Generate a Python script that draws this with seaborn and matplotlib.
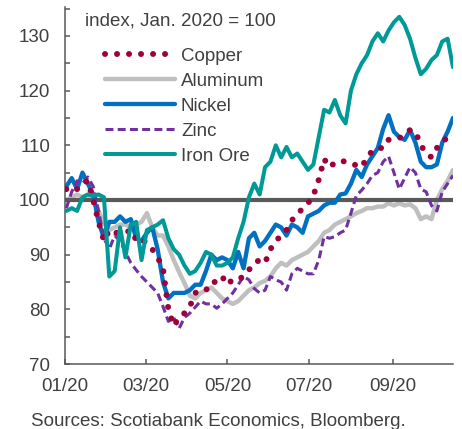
import numpy as np
import pandas as pd
import matplotlib
matplotlib.use("Agg")
import matplotlib.pyplot as plt
import matplotlib.dates as mdates
from matplotlib.ticker import MultipleLocator
from matplotlib.lines import Line2D
import seaborn as sns

# ---- data: metal prices, index Jan. 2020 = 100, sampled every 4 days ----
dates = pd.date_range("2020-01-02", periods=73, freq="4D")

copper = [102, 101.5, 102, 103, 103.5, 100, 96, 92.5, 94.5, 94, 94, 94, 94.5, 92.7, 93,
          92, 91, 89.5, 87.5, 80, 77, 78.5, 79.3, 80.5, 83, 83.5, 83.5, 85, 85, 86,
          84.5, 85.5, 85.5, 86, 87.2, 88.5, 89, 88.5, 91, 92.5, 93.5, 94.5, 96.3, 97.3,
          98.5, 99.4, 100.8, 103.7, 107.5, 106, 106.8, 107.2, 107, 106.8, 106.3, 106,
          107.8, 109, 109.5, 109.5, 111, 111, 111.3, 112, 112.8, 112.5, 110, 108.6,
          107.8, 109.5, 110.8, 111.3, 111.5]

aluminum = [100, 100.5, 101, 100.5, 101, 100, 98, 95.8, 94.5, 95, 95.5, 95.5, 95, 95.5,
            96, 97.6, 95, 93.5, 93.5, 91.5, 89, 86.8, 84.8, 82.5, 82, 83, 83.5, 84, 83,
            82, 81.5, 81, 81.5, 82.5, 83.5, 84, 84.8, 85.2, 86, 87.5, 88.5, 88, 89, 89.5,
            90, 90.5, 91.5, 92.5, 94, 94.5, 95.5, 96, 96.5, 97, 97.6, 98, 98.5, 98.5,
            98.8, 98.8, 99.4, 99, 99.4, 99, 99.2, 98.5, 96.5, 97, 96.5, 100, 102, 103.5,
            105.5]

nickel = [102.5, 104, 102, 105, 103, 101, 96, 93, 96, 96, 97, 96, 96.5, 93, 92.5, 94, 95,
          91, 85, 82, 83, 83, 83, 83.5, 84.5, 84.5, 87, 90, 89, 89.5, 89, 87.5, 90.5,
          87.5, 93, 94, 91.5, 92.5, 94, 95.5, 95, 93.5, 95.5, 95, 94, 97, 97.5, 98, 99,
          99.5, 99.5, 101, 101.2, 103, 105.5, 104.2, 106.5, 108, 109.5, 113, 115.5,
          112.5, 111.5, 111, 112.8, 110.5, 107, 106, 106, 106.5, 110.5, 112.5, 115]

zinc = [98.5, 101.5, 103.5, 103, 104.2, 102.5, 98, 93, 91, 93.5, 92.5, 90.5, 88.5, 87.2,
        86, 85, 84, 83, 80.5, 77.8, 78.5, 76.5, 78.5, 79.3, 80.4, 81.5, 81, 81, 80.2,
        81, 82, 83, 84.5, 86, 85.4, 83.8, 83, 83.5, 86, 85.4, 85, 83.5, 86.5, 87.5, 87,
        86.5, 86.5, 89, 93.3, 93, 93.3, 94, 94.5, 97.6, 100.8, 101.8, 103, 104.5, 105,
        107, 108, 105, 102, 104, 106, 105, 102, 101.5, 99, 98, 101.5, 103, 104.5]

iron_ore = [98, 98.5, 98, 100.5, 101, 100.8, 101, 100.5, 86, 87, 95, 89.5, 95.5, 96, 89,
            94.5, 95, 95.5, 96.3, 93, 91, 90, 88, 86.5, 87, 88.5, 90.5, 90, 88, 88, 88.5,
            89.5, 93, 96, 100.5, 103, 101, 106, 107, 110, 107.8, 109.7, 107.8, 108.5,
            107, 105.5, 106.5, 111.5, 116.5, 116, 118.3, 115.5, 114, 120, 123, 125,
            126.5, 129, 130.5, 129, 131, 132.5, 133.5, 132, 129.5, 126, 123, 124, 125.6,
            126.5, 129, 129.5, 124.3]

series_names = ["Copper", "Aluminum", "Nickel", "Zinc", "Iron Ore"]
y_ticks = [70, 80, 90, 100, 110, 120, 130]
x_tick_dates = ["2020-01-01", "2020-03-01", "2020-05-01", "2020-07-01", "2020-09-01"]

df = pd.DataFrame({"date": dates, "Copper": copper, "Aluminum": aluminum,
                   "Nickel": nickel, "Zinc": zinc, "Iron Ore": iron_ore})

# ---- styling ----
sns.set_theme(style="white")
plt.rcParams["font.family"] = ["Liberation Sans", "DejaVu Sans"]
text_col = "#404040"
axis_col = "#595959"
fs = 13.5

styles = {
    "Copper":   dict(color="#A0003A", lw=4.3, ls=(0, (0.01, 2.0)), dash_capstyle="round"),
    "Aluminum": dict(color="#BFBFBF", lw=3.2, ls="-"),
    "Nickel":   dict(color="#0070C0", lw=3.1, ls="-"),
    "Zinc":     dict(color="#7030A0", lw=2.2, ls=(0, (2.6, 1.4)), dash_capstyle="butt"),
    "Iron Ore": dict(color="#009A96", lw=2.9, ls="-"),
}

fig = plt.figure(figsize=(4.62, 4.29), dpi=100)
ax = fig.add_axes([0.1407, 0.1515, 0.9805 - 0.1407, 0.9837 - 0.1515])

def draw(name, z):
    st = styles[name]
    sns.lineplot(data=df, x="date", y=name, ax=ax, color=st["color"], linewidth=st["lw"],
                 linestyle=st["ls"], zorder=z, legend=False)
    line = ax.get_lines()[-1]
    if "dash_capstyle" in st:
        line.set_dash_capstyle(st["dash_capstyle"])
    line.set_solid_joinstyle("round")

draw("Aluminum", 2)
ax.axhline(100, color=axis_col, lw=3.0, zorder=3)
draw("Nickel", 4)
draw("Zinc", 5)
draw("Copper", 6)
draw("Iron Ore", 7)

# axes limits and ticks
ax.set_ylim(70, 135.3)
ax.set_xlim(pd.Timestamp("2020-01-01"), dates[-1])
ax.yaxis.set_major_locator(MultipleLocator(10))
ax.yaxis.set_minor_locator(MultipleLocator(5))
ax.set_yticks(y_ticks)
ax.set_xticks([pd.Timestamp(d) for d in x_tick_dates])
ax.xaxis.set_major_formatter(mdates.DateFormatter("%m/%y"))
ax.set_xlabel("")
ax.set_ylabel("")

for s in ["top", "right"]:
    ax.spines[s].set_visible(False)
for s in ["left", "bottom"]:
    ax.spines[s].set_color(axis_col)
    ax.spines[s].set_linewidth(1.1)

ax.tick_params(axis="both", which="both", direction="in", length=3.6, width=1.1,
               color=axis_col, labelcolor=text_col, labelsize=fs)
ax.tick_params(axis="y", which="both", pad=10.8, left=True)
ax.tick_params(axis="x", which="both", pad=10.2, bottom=True)

# legend
handles = []
for name in series_names:
    st = styles[name]
    h = Line2D([], [], color=st["color"], lw=st["lw"], ls=st["ls"])
    if "dash_capstyle" in st:
        h.set_dash_capstyle(st["dash_capstyle"])
    handles.append(h)
leg = ax.legend(handles, series_names, loc="upper left",
                bbox_to_anchor=(105 / 462, 1 - 47.5 / 429), bbox_transform=fig.transFigure,
                frameon=False, fontsize=fs, handlelength=3.73, handletextpad=0.32,
                labelspacing=0.42, borderpad=0, borderaxespad=0)
for t in leg.get_texts():
    t.set_color(text_col)

fig.text(85 / 462, 1 - 26 / 429, "index, Jan. 2020 = 100", ha="left", va="baseline",
         fontsize=fs, color=text_col)
fig.text(31 / 462, 1 - 426.5 / 429, "Sources: Scotiabank Economics, Bloomberg.",
         ha="left", va="baseline", fontsize=fs, color=text_col)

fig.savefig("out.png", dpi=100)
